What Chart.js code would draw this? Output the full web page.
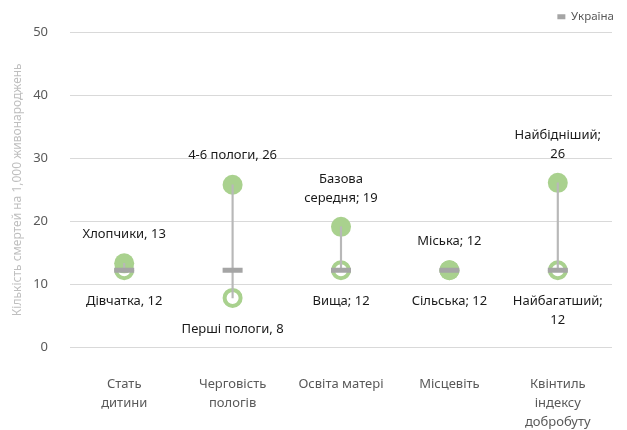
<!DOCTYPE html>
<html>
<head>
<meta charset="utf-8">
<script src="https://cdn.jsdelivr.net/npm/chart.js@4"></script>
<style>
  html, body { margin: 0; padding: 0; background: #fff; }
  #wrap { width: 627px; height: 430px; position: relative; }
</style>
</head>
<body>
<div id="wrap"><canvas id="myChart"></canvas></div>
<script>
// categories on the x axis
const categories = [
  ['Стать', 'дитини'],
  ['Черговість', 'пологів'],
  ['Освіта матері'],
  ['Місцевіть'],
  ['Квінтиль', 'індексу', 'добробуту'],
]

// higher group (filled dot) and lower group (hollow dot)
const highNames = ['Хлопчики', '4-6 пологи', 'Базова\nсередня', 'Міська', 'Найбідніший']
const highSeps = [', ', ', ', '; ', '; ', ';\n']
const highValues = [13.3, 25.8, 19.1, 12.2, 26.1]

const lowNames = ['Дівчатка', 'Перші пологи', 'Вища', 'Сільська', 'Найбагатший']
const lowSeps = [', ', ', ', '; ', '; ', ';\n']
const lowValues = [12.2, 7.8, 12.2, 12.2, 12.2]

// national value
const ukraineValues = [12.2, 12.2, 12.2, 12.2, 12.2]

const yTicks = [0, 10, 20, 30, 40, 50]

const green = '#a9d18e'
const grey = '#a5a5a5'
const txtFont = '"Noto Sans", sans-serif'

// connecting lines as very thin floating bars
const ranges = highValues.map((v, i) => [Math.min(v, lowValues[i]), Math.max(v, lowValues[i])])

// Labels next to the dots
const dotLabels = {
  id: 'dotLabels',
  afterDatasetsDraw(chart) {
    const ctx = chart.ctx
    ctx.save()
    ctx.font = '13px ' + txtFont
    ctx.fillStyle = '#1a1a1a'
    ctx.textAlign = 'center'
    ctx.textBaseline = 'middle'
    const lh = 19
    const hiMeta = chart.getDatasetMeta(2)
    const loMeta = chart.getDatasetMeta(1)
    hiMeta.data.forEach((pt, i) => {
      const lines = (highNames[i] + highSeps[i] + Math.round(highValues[i])).split('\n')
      lines.forEach((t, k) => {
        ctx.fillText(t, pt.x, pt.y - 29 - (lines.length - 1 - k) * lh)
      })
    })
    loMeta.data.forEach((pt, i) => {
      const lines = (lowNames[i] + lowSeps[i] + Math.round(lowValues[i])).split('\n')
      lines.forEach((t, k) => {
        ctx.fillText(t, pt.x, pt.y + 31 + k * lh)
      })
    })
    ctx.restore()
  },
}

const ctx = document.getElementById('myChart').getContext('2d')

new Chart(ctx, {
  type: 'bar',
  data: {
    labels: categories,
    datasets: [
      {
        type: 'bar',
        label: 'range',
        data: ranges,
        backgroundColor: '#b8b8b8',
        barThickness: 1.5,
        borderWidth: 0,
        order: 2,
      },
      {
        type: 'line',
        label: 'low',
        data: lowValues,
        showLine: false,
        pointRadius: 8,
        pointBorderWidth: 4,
        pointBackgroundColor: '#ffffff',
        pointBorderColor: green,
        order: 4,
      },
      {
        type: 'line',
        label: 'high',
        data: highValues,
        showLine: false,
        pointRadius: 10,
        pointBorderWidth: 0,
        pointBackgroundColor: green,
        pointBorderColor: green,
        order: 3,
      },
      {
        type: 'line',
        label: 'Україна',
        data: ukraineValues,
        showLine: false,
        pointStyle: 'line',
        pointRadius: 10,
        pointBorderWidth: 5,
        pointBorderColor: grey,
        pointBackgroundColor: grey,
        borderColor: grey,
        backgroundColor: grey,
        order: 1,
      },
    ],
  },
  options: {
    responsive: true,
    maintainAspectRatio: false,
    animation: false,
    layout: { padding: { top: 3, right: 5, bottom: 0, left: 10 } },
    plugins: {
      tooltip: { enabled: false },
      legend: {
        position: 'top',
        align: 'end',
        labels: {
          filter: (item) => item.text === 'Україна',
          usePointStyle: true,
          pointStyle: 'line',
          pointStyleWidth: 8,
          boxHeight: 3,
          color: '#595959',
          font: { family: txtFont, size: 11.5 },
          padding: 8,
        },
      },
    },
    scales: {
      x: {
        offset: true,
        grid: { display: false },
        border: { display: false },
        ticks: {
          color: '#595959',
          font: { family: txtFont, size: 13, lineHeight: 1.45 },
          maxRotation: 0,
          autoSkip: false,
          padding: 20,
        },
        afterFit: (scale) => { scale.height = 83 },
      },
      y: {
        min: 0,
        max: 50,
        afterBuildTicks: (scale) => { scale.ticks = yTicks.map((v) => ({ value: v })) },
        grid: { color: '#d9d9d9', lineWidth: 1, drawTicks: false },
        border: { display: false },
        ticks: {
          color: '#595959',
          font: { family: txtFont, size: 13 },
          padding: 22,
        },
        title: {
          display: true,
          text: 'Кількість смертей на 1,000 живонароджень',
          color: '#bfbfbf',
          font: { family: txtFont, size: 12 },
          padding: 0,
        },
        afterFit: (scale) => { scale.width = 60 },
      },
    },
  },
  plugins: [dotLabels],
})
</script>
</body>
</html>
